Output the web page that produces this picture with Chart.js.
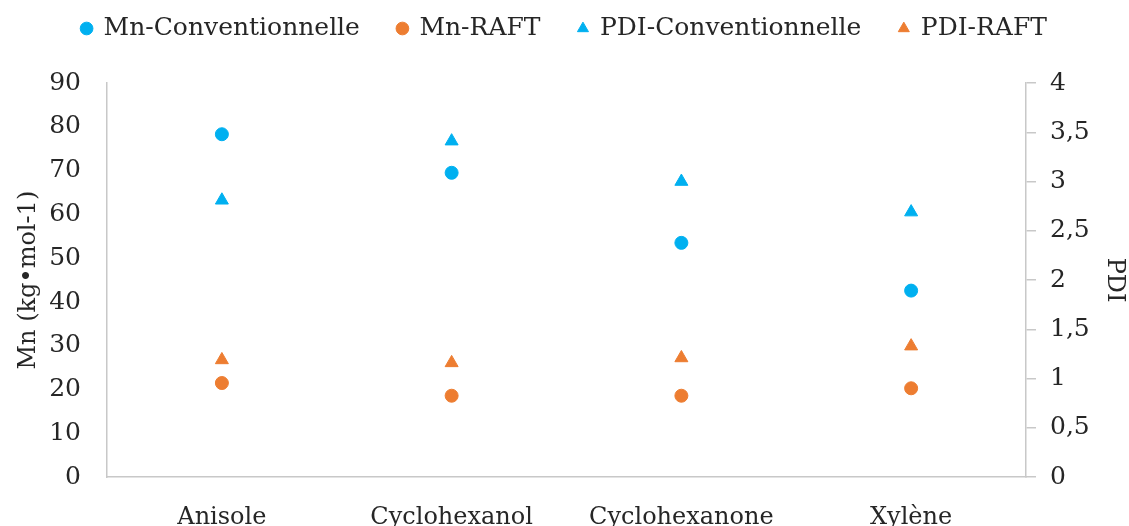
<!DOCTYPE html>
<html>
<head>
<meta charset="utf-8">
<script src="https://cdn.jsdelivr.net/npm/chart.js@4/dist/chart.umd.min.js"></script>
<style>
  html, body { margin: 0; padding: 0; background: #fff; overflow: hidden; }
  #wrap { width: 1129px; height: 550px; position: relative; }
</style>
</head>
<body>
<div id="wrap"><canvas id="myChart"></canvas></div>
<script>
var solvants = ["Anisole", "Cyclohexanol", "Cyclohexanone", "Xylène"];
var mn_conv = [78.3, 69.5, 53.5, 42.6];
var mn_raft = [21.5, 18.6, 18.6, 20.3];
var pdi_conv = [2.81, 3.41, 3.00, 2.69];
var pdi_raft = [1.19, 1.16, 1.21, 1.33];

var bleu = "#00B0F0";
var orange = "#ED7D31";
var police = "DejaVu Serif";
var texte = "#262626";

// space between legend and plot
var legendGap = {
  id: 'legendGap',
  beforeInit: function (chart) {
    var fitOrig = chart.legend.fit;
    chart.legend.fit = function () {
      fitOrig.call(this);
      this.height += 32;
    };
  }
};

var ctx = document.getElementById("myChart");
var myChart = new Chart(ctx, {
  type: 'line',
  plugins: [legendGap],
  data: {
    labels: solvants,
    datasets: [
      { label: "Mn-Conventionnelle", data: mn_conv, yAxisID: 'y', pointStyle: 'circle',
        backgroundColor: bleu, borderColor: bleu, pointRadius: 6.5, showLine: false },
      { label: "Mn-RAFT", data: mn_raft, yAxisID: 'y', pointStyle: 'circle',
        backgroundColor: orange, borderColor: orange, pointRadius: 6.5, showLine: false },
      { label: "PDI-Conventionnelle", data: pdi_conv, yAxisID: 'y2', pointStyle: 'triangle',
        backgroundColor: bleu, borderColor: bleu, pointRadius: 7.5, showLine: false },
      { label: "PDI-RAFT", data: pdi_raft, yAxisID: 'y2', pointStyle: 'triangle',
        backgroundColor: orange, borderColor: orange, pointRadius: 7.5, showLine: false }
    ]
  },
  options: {
    responsive: true,
    maintainAspectRatio: false,
    animation: false,
    layout: { padding: { top: -22, left: 0, right: 0, bottom: 0 } },
    plugins: {
      tooltip: { enabled: false },
      legend: {
        position: 'top',
        labels: {
          usePointStyle: true,
          boxWidth: 9,
          boxHeight: 9,
          padding: 38,
          color: texte,
          font: { family: police, size: 25 }
        }
      }
    },
    scales: {
      x: {
        offset: true,
        grid: { display: false },
        border: { color: "#c8c8c8", width: 1.5 },
        ticks: { color: texte, font: { family: police, size: 24 }, padding: 18, maxRotation: 0 }
      },
      y: {
        position: 'left',
        min: 0, max: 90,
        grid: { display: false, drawTicks: false },
        border: { color: "#c8c8c8", width: 1.5 },
        ticks: { stepSize: 10, color: texte, font: { family: police, size: 25 }, padding: 26 },
        title: { display: true, text: "Mn (kg•mol-1)", color: texte,
                 font: { family: police, size: 24 }, padding: { top: 14, bottom: 0 } },
        afterFit: function (scale) { scale.width = 107; }
      },
      y2: {
        position: 'right',
        min: 0, max: 4,
        grid: { drawOnChartArea: false, tickLength: 10, color: "#c8c8c8", lineWidth: 1.5 },
        border: { color: "#c8c8c8", width: 1.5 },
        ticks: { stepSize: 0.5, color: texte, font: { family: police, size: 25 }, padding: 14,
                 callback: function (v) { return String(v).replace('.', ','); } },
        title: { display: true, text: "PDI", color: texte,
                 font: { family: police, size: 24 }, padding: { top: 0, bottom: 0 } },
        afterFit: function (scale) { scale.width = 103; }
      }
    }
  }
});
</script>
</body>
</html>
